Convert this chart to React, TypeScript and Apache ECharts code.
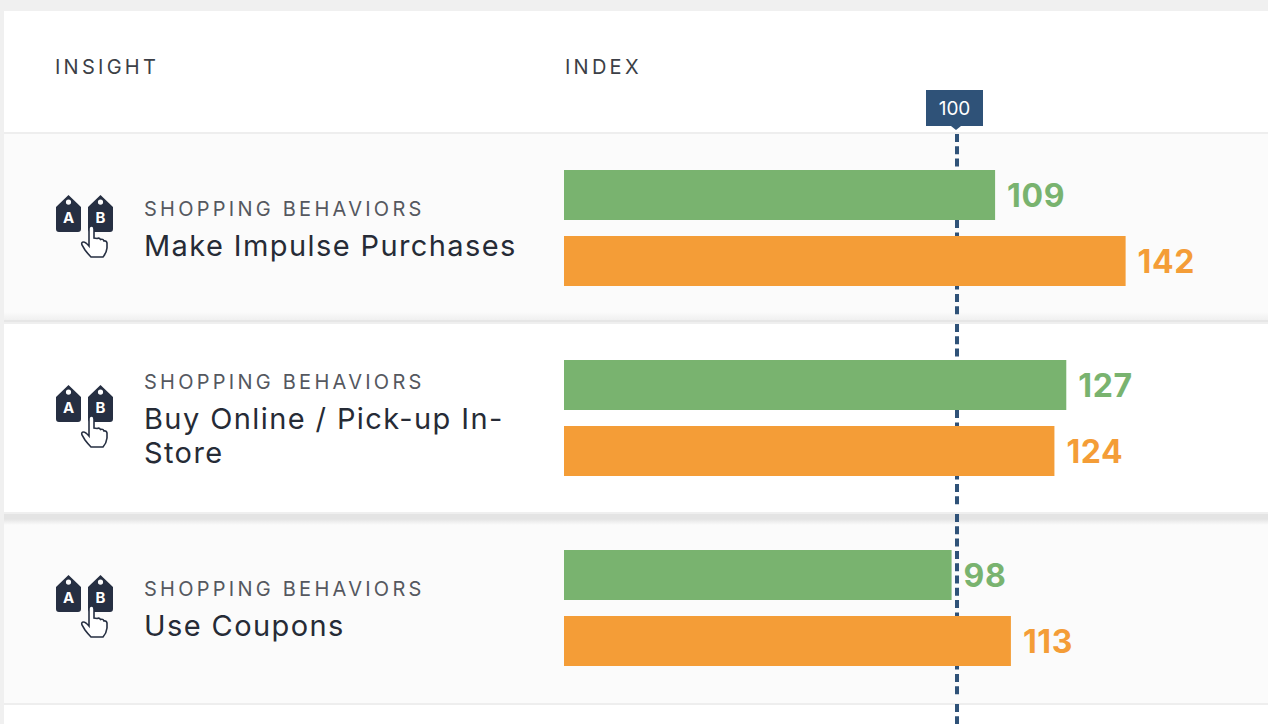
import React, { useEffect, useRef } from "react";
import * as echarts from "echarts";

const categories = [
  "Make Impulse Purchases",
  "Buy Online / Pick-up In-\nStore",
  "Use Coupons",
  "",
];
const groupLabel = "SHOPPING BEHAVIORS";
const greenValues = [109, 127, 98, null];
const orangeValues = [142, 124, 113, null];
const referenceValue = 100;
const headers = ["INSIGHT", "INDEX"];

const FONT = "Inter, 'Open Sans', sans-serif";
const TAG =
  "M12.5 0 L25 12 L25 34 Q25 37 22 37 L3 37 Q0 37 0 34 L0 12 Z M12.5 4.5 A2.6 2.6 0 1 0 12.5 9.7 A2.6 2.6 0 1 0 12.5 4.5 Z";
const HAND =
  "M8 3 Q8 0 10.5 0 Q13 0 13 3 L13 12 L16 12.5 Q18.5 11.5 19.5 13.5 Q22 12.5 23 15 Q25.5 14.5 26 17 L26 22 Q25.5 27 22 31 L10 31 Q7 28 4 24 L1 19 Q0 16 2.5 16 Q4.5 16 8 20 Z";
echarts.graphic.registerShape("abTag", echarts.graphic.extendPath(TAG, {} as any) as any);
echarts.graphic.registerShape("abHand", echarts.graphic.extendPath(HAND, {} as any) as any);

const rowTops = [195, 385, 575];
const icon = (y: number) => ({
  type: "group",
  x: 56,
  y,
  children: [
    { type: "abTag", x: 0, y: 0, style: { fill: "#262f42" } },
    { type: "abTag", x: 32, y: 0, style: { fill: "#262f42" } },
    { type: "text", x: 12.5, y: 22, style: { text: "A", fill: "#fff", font: `700 15px ${FONT}`, align: "center", verticalAlign: "middle" } },
    { type: "text", x: 44.5, y: 22, style: { text: "B", fill: "#fff", font: `700 15px ${FONT}`, align: "center", verticalAlign: "middle" } },
    { type: "abHand", x: 25, y: 31, z: 3, style: { fill: "#fff", stroke: "#262f42", lineWidth: 1.6 } },
  ],
});

const rect = (x: number, y: number, width: number, height: number, fill: any) => ({
  type: "rect",
  z: -10,
  silent: true,
  shape: { x, y, width, height },
  style: { fill },
});
const fade = (from: string, to: string) => ({
  type: "linear",
  x: 0,
  y: 0,
  x2: 0,
  y2: 1,
  colorStops: [
    { offset: 0, color: from },
    { offset: 1, color: to },
  ],
});

const css = `
  text[style*="20px"] { letter-spacing: 3.25px; }
  text[style*="29px"] { letter-spacing: 1.4px; }
  text[style*="32px"] { letter-spacing: 0.6px; }
`;

export default function App() {
  const ref = useRef<HTMLDivElement>(null);
  useEffect(() => {
    const chart = echarts.init(ref.current!, undefined, { renderer: "svg" });
    const valueLabel = (color: string) => ({
      show: true,
      position: "right",
      distance: 12,
      color,
      fontFamily: FONT,
      fontWeight: 700,
      fontSize: 32,
    });
    chart.setOption({
      animation: false,
      backgroundColor: "#f0f0f0",
      grid: { left: 564, top: 133, width: 704, height: 760, containLabel: false, outerBoundsMode: "none" },
      xAxis: [
        { type: "value", min: 0, max: 178, show: false },
        { type: "value", min: 0, max: 179.13, show: false },
      ],
      yAxis: {
        type: "category",
        inverse: true,
        data: categories,
        axisLine: { show: false },
        axisTick: { show: false },
        axisLabel: {
          margin: 420,
          align: "left",
          padding: [0, 0, 4, 0],
          formatter: (v: string) => (v ? `{a|${groupLabel}}\n{b|${v.split("\n").join("}\n{b|")}}` : ""),
          rich: {
            a: { fontFamily: FONT, fontSize: 20, color: "#55585f", lineHeight: 38 },
            b: { fontFamily: FONT, fontSize: 29, color: "#262b36", lineHeight: 34 },
          },
        },
      },
      graphic: [
        rect(4, 11, 1264, 713, "#ffffff"),
        rect(4, 132, 1264, 2, "#eeeeee"),
        rect(4, 134, 1264, 178, "#fbfbfb"),
        rect(4, 312, 1264, 8, fade("#fbfbfb", "#f0f0f0")),
        rect(4, 320, 1264, 2, "#e6e6e6"),
        rect(4, 322, 1264, 2, "#efefef"),
        rect(4, 512, 1264, 2, "#efefef"),
        rect(4, 514, 1264, 5, "#e4e4e4"),
        rect(4, 519, 1264, 6, fade("#e4e4e4", "#fbfbfb")),
        rect(4, 525, 1264, 178, "#fbfbfb"),
        rect(4, 703, 1264, 2, "#eeeeee"),
        { type: "text", x: 55, y: 67, style: { text: headers[0], fill: "#3c3f47", font: `400 20px ${FONT}`, verticalAlign: "middle" } },
        { type: "text", x: 565, y: 67, style: { text: headers[1], fill: "#3c3f47", font: `400 20px ${FONT}`, verticalAlign: "middle" } },
        { type: "rect", z: 10, shape: { x: 926, y: 90, width: 57, height: 36 }, style: { fill: "#2f5278" } },
        { type: "polygon", z: 10, shape: { points: [[951, 126], [961, 126], [956, 130]] }, style: { fill: "#2f5278" } },
        { type: "text", z: 11, x: 954.5, y: 108, style: { text: String(referenceValue), fill: "#fff", font: `400 19px ${FONT}`, align: "center", verticalAlign: "middle" } },
        ...rowTops.map(icon),
      ],
      series: [
        {
          type: "bar",
          name: "Green",
          data: greenValues,
          barWidth: 50,
          barGap: "32%",
          z: 3,
          itemStyle: { color: "#79b36f" },
          label: valueLabel("#79b36f"),
        },
        {
          type: "bar",
          name: "Orange",
          data: orangeValues,
          barWidth: 50,
          barGap: "32%",
          z: 3,
          itemStyle: { color: "#f49d37" },
          label: valueLabel("#f49d37"),
        },
        {
          type: "custom",
          name: "Reference",
          xAxisIndex: 1,
          z: 1,
          silent: true,
          clip: false,
          data: categories.map((_, i) => [referenceValue, i]),
          encode: { x: 0, y: 1 },
          renderItem: (_: any, api: any) => {
            const p = api.coord([api.value(0), api.value(1)]);
            const band = api.size([0, 1])[1];
            const top = p[1] - band / 2 + 1;
            return {
              type: "line",
              shape: { x1: p[0], y1: top, x2: p[0], y2: top + band - 8 },
              style: { stroke: "#2f5278", lineWidth: 4, lineDash: [8, 4.3] },
            };
          },
        },
      ],
    });
    return () => chart.dispose();
  }, []);
  return (
    <>
      <style>{css}</style>
      <div ref={ref} style={{ position: "fixed", left: 0, top: 0, width: 1268, height: 724 }} />
    </>
  );
}
